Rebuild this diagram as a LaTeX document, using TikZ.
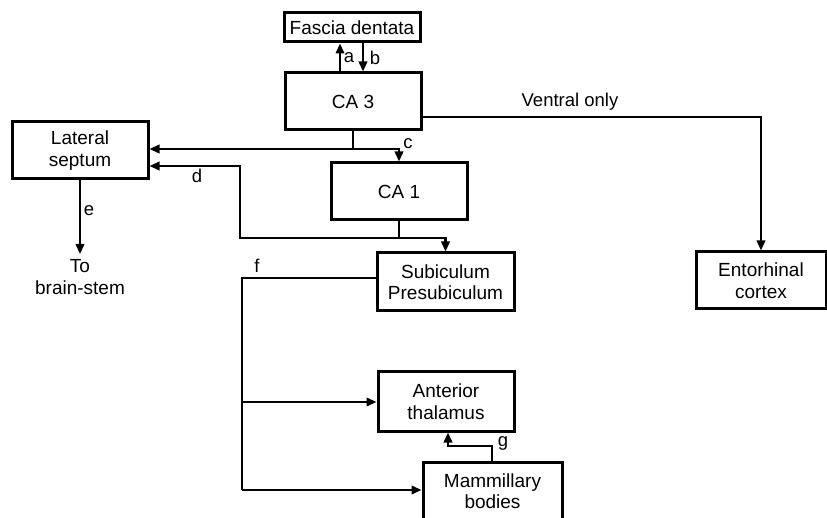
\documentclass[tikz,border=0pt]{standalone}
\usepackage{fontspec}
\setmainfont{Liberation Sans}
\usetikzlibrary{arrows.meta}
\begin{document}
\begin{tikzpicture}[x=1pt,y=-1pt,
  box/.style={draw, line width=3pt, inner sep=0pt, align=center,
    font=\fontsize{19}{21.5}\selectfont},
  txt/.style={inner sep=0pt, align=center, font=\fontsize{19}{21.5}\selectfont},
  lbl/.style={inner sep=0pt, font=\fontsize{18.5}{21}\selectfont},
  conn/.style={line width=2.1pt},
  arr/.style={conn, -{Triangle[length=10pt,width=8.5pt]}}]
\useasboundingbox (0,0) rectangle (827,518);
\clip (0,0) rectangle (827,518);
% boxes
\node[box, minimum width=136pt, minimum height=29pt] (fd) at (352,27.5) {Fascia dentata};
\node[box, minimum width=136pt, minimum height=57pt] (ca3) at (353,101.5) {CA 3};
\node[box, minimum width=136pt, minimum height=57pt] (ls) at (80,150.5) {Lateral\\septum};
\node[box, minimum width=136pt, minimum height=57pt] (ca1) at (399,191.5) {CA 1};
\node[box, minimum width=137pt, minimum height=58pt] (sub) at (445.5,282) {Subiculum\\Presubiculum};
\node[box, minimum width=130pt, minimum height=57pt] (ec) at (761,280.5) {Entorhinal\\cortex};
\node[box, minimum width=136pt, minimum height=59pt] (at) at (446,401.5) {Anterior\\thalamus};
\node[box, minimum width=139pt, minimum height=58pt] (mb) at (492.5,491) {Mammillary\\bodies};
\node[txt] (bs) at (80,277) {To\\brain-stem};
% helper coordinates
\coordinate (xa) at (340,0);
\coordinate (xb) at (363,0);
\coordinate (yc) at (0,149);
\coordinate (yd1) at (0,166);
\coordinate (yd2) at (0,238);
\coordinate (xd) at (240,0);
\coordinate (yv) at (0,117);
\coordinate (yf) at (0,278);
\coordinate (xf) at (242,0);
\coordinate (yat) at (0,402);
\coordinate (ymb) at (0,490);
\coordinate (xg1) at (492,0);
\coordinate (xg2) at (448,0);
\coordinate (yg) at (0,446);
\coordinate (ebs) at (80,254);
% a, b
\draw[arr] (ca3.north -| xa) -- (fd.south -| xa);
\draw[arr] (fd.south -| xb) -- (ca3.north -| xb);
\node[lbl] at (349,58) {a};
\node[lbl] at (375,58) {b};
% c
\draw[arr] (ca3.south) -- (ca3.south |- yc) -- (ls.east |- yc);
\draw[arr] (ca3.south |- yc) -| (ca1.north);
\node[lbl] at (408,144) {c};
% d
\draw[arr] (ca1.south) -- (ca1.south |- yd2) -- (xd |- yd2) -- (xd |- yd1) -- (ls.east |- yd1);
\draw[arr] (ca1.south |- yd2) -| (sub.north);
\node[lbl] at (197,176) {d};
% e
\draw[arr] (ls.south) -- (ebs);
\node[lbl] at (89,211) {e};
% ventral only
\draw[arr] (ca3.east |- yv) -| (ec.north);
\node[lbl] at (570,102) {Ventral only};
% f
\draw[conn] (sub.west |- yf) -- (xf |- yf) -- (xf |- ymb);
\draw[arr] (xf |- ymb) -- (mb.west |- ymb);
\draw[arr] (xf |- yat) -- (at.west |- yat);
\node[lbl] at (257,266) {f};
% g
\draw[arr] (mb.north -| xg1) -- (xg1 |- yg) -- (xg2 |- yg) -- (at.south -| xg2);
\node[lbl] at (503,443) {g};
\end{tikzpicture}
\end{document}
